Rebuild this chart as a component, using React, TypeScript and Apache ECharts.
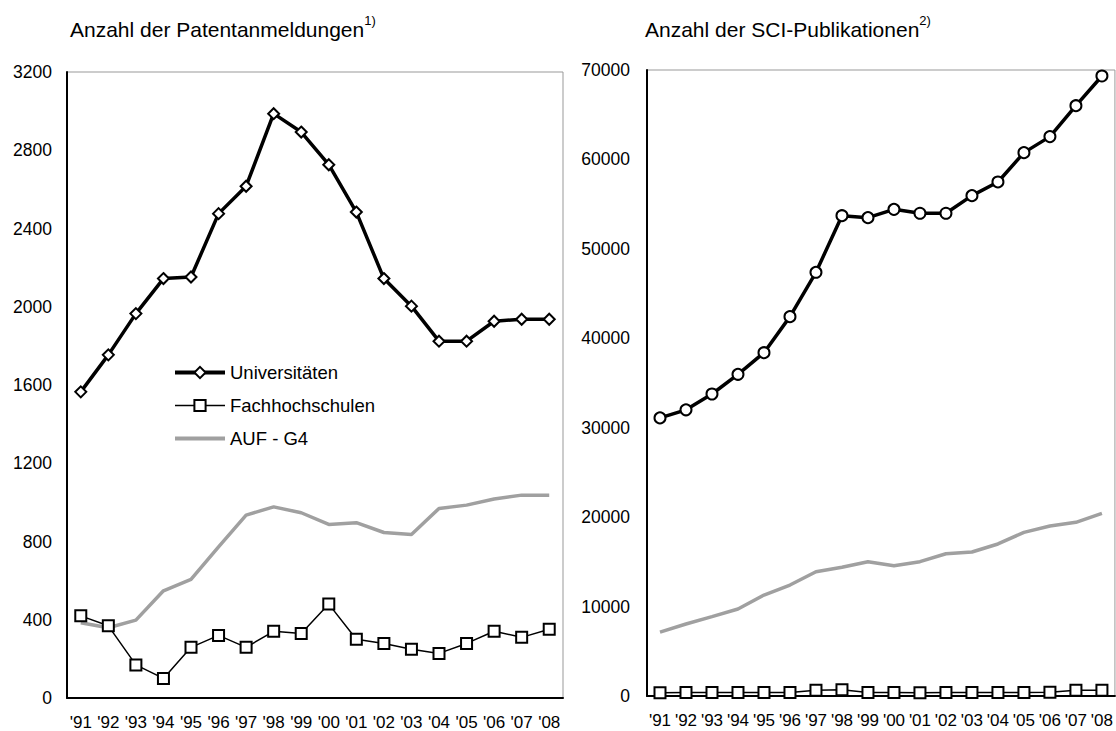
import React, { useEffect, useRef } from "react";
import * as echarts from "echarts";

const years = ["'91","'92","'93","'94","'95","'96","'97","'98","'99","'00","'01","'02","'03","'04","'05","'06","'07","'08"];

// Patentanmeldungen
const patUni = [1565, 1754, 1965, 2144, 2152, 2476, 2616, 2987, 2893, 2726, 2484, 2144, 2003, 1824, 1824, 1926, 1936, 1936];
const patFH = [420, 369, 169, 100, 259, 320, 259, 341, 330, 480, 300, 279, 249, 228, 279, 341, 310, 351];
const patAUF = [385, 359, 398, 548, 606, 773, 935, 977, 947, 887, 896, 846, 836, 969, 986, 1017, 1037, 1037];

// SCI-Publikationen
const pubUni = [31100, 32000, 33770, 35970, 38390, 42420, 47380, 53710, 53490, 54420, 53980, 53980, 55950, 57480, 60760, 62550, 66010, 69330];
const pubFH = [350, 380, 400, 390, 380, 400, 650, 700, 380, 380, 360, 380, 400, 380, 400, 420, 650, 650];
const pubAUF = [7150, 8050, 8870, 9730, 11290, 12410, 13900, 14390, 15020, 14570, 15020, 15910, 16100, 17000, 18300, 19010, 19420, 20430];

const leftTicks = { min: 0, max: 3200, interval: 400 };
const rightTicks = { min: 0, max: 70000, interval: 10000 };

const NAME_UNI = "Universitäten";
const NAME_FH = "Fachhochschulen";
const NAME_AUF = "AUF - G4";

const FONT = "'Liberation Sans', Arial, sans-serif";
const GRAY = "#a0a0a0";

export default function App() {
  const ref = useRef<HTMLDivElement>(null);
  useEffect(() => {
    document.body.style.margin = "0";
    const chart = echarts.init(ref.current!, null, { renderer: "svg" });
    const xAxisBase = (gridIndex: number) => ({
      type: "category",
      gridIndex,
      data: years,
      boundaryGap: true,
      axisLine: { show: true, lineStyle: { color: "#000", width: 2 } },
      axisTick: { show: false },
      axisLabel: { interval: 0, color: "#000", fontSize: 17, fontFamily: FONT, margin: 16, hideOverlap: false },
      splitLine: { show: false },
    });
    const yAxisBase = (gridIndex: number, t: any, margin: number) => ({
      type: "value",
      gridIndex,
      min: t.min,
      max: t.max,
      interval: t.interval,
      axisLine: { show: true, lineStyle: { color: "#000", width: 2 } },
      axisTick: { show: false },
      axisLabel: { color: "#000", fontSize: 17.5, fontFamily: FONT, margin, formatter: (v: number) => String(v) },
      splitLine: { show: false },
    });
    const uniStyle = (symbol: string) => ({
      type: "line",
      symbol,
      symbolSize: 11,
      itemStyle: { color: "#fff", borderColor: "#000", borderWidth: 2 },
      lineStyle: { color: "#000", width: 3.5 },
      z: 4,
    });
    const fhStyle = {
      type: "line",
      symbol: "rect",
      symbolSize: 11,
      itemStyle: { color: "#fff", borderColor: "#000", borderWidth: 2 },
      lineStyle: { color: "#000", width: 1.5 },
      z: 3,
    };
    const aufStyle = {
      type: "line",
      symbol: "none",
      showSymbol: false,
      itemStyle: { color: GRAY },
      lineStyle: { color: GRAY, width: 3.5 },
      z: 2,
    };
    chart.setOption({
      animation: false,
      backgroundColor: "#fff",
      textStyle: { fontFamily: FONT },
      grid: [
        { left: 67, top: 72, width: 496, height: 626, show: true, borderColor: "#999", borderWidth: 1, backgroundColor: "transparent" },
        { left: 647, top: 70, width: 468, height: 626, show: true, borderColor: "#999", borderWidth: 1, backgroundColor: "transparent" },
      ],
      xAxis: [xAxisBase(0), xAxisBase(1)],
      yAxis: [yAxisBase(0, leftTicks, 15), yAxisBase(1, rightTicks, 17)],
      legend: {
        orient: "vertical",
        left: 168,
        top: 358,
        itemWidth: 50,
        itemHeight: 14,
        itemGap: 14,
        data: [
          { name: NAME_UNI, lineStyle: { width: 4, color: "#000" } },
          { name: NAME_FH, lineStyle: { width: 1.5, color: "#000" } },
          { name: NAME_AUF, itemStyle: { opacity: 0 }, lineStyle: { width: 4, color: GRAY } },
        ],
        textStyle: { color: "#000", fontSize: 18.5, fontFamily: FONT },
        selectedMode: false,
      },
      graphic: [
        {
          type: "text",
          left: 70,
          top: 14,
          style: {
            text: "{a|Anzahl der Patentanmeldungen}{s|1)}",
            rich: {
              a: { fontSize: 21, fontFamily: FONT, fill: "#000", lineHeight: 26, verticalAlign: "bottom" },
              s: { fontSize: 13, fontFamily: FONT, fill: "#000", lineHeight: 26, verticalAlign: "top" },
            },
          },
        },
        {
          type: "text",
          left: 645,
          top: 14,
          style: {
            text: "{a|Anzahl der SCI-Publikationen}{s|2)}",
            rich: {
              a: { fontSize: 21, fontFamily: FONT, fill: "#000", lineHeight: 26, verticalAlign: "bottom" },
              s: { fontSize: 13, fontFamily: FONT, fill: "#000", lineHeight: 26, verticalAlign: "top" },
            },
          },
        },
      ],
      series: [
        { ...aufStyle, name: NAME_AUF, xAxisIndex: 0, yAxisIndex: 0, data: patAUF },
        { ...fhStyle, name: NAME_FH, xAxisIndex: 0, yAxisIndex: 0, data: patFH },
        { ...uniStyle("diamond"), name: NAME_UNI, xAxisIndex: 0, yAxisIndex: 0, data: patUni },
        { ...aufStyle, name: NAME_AUF, xAxisIndex: 1, yAxisIndex: 1, data: pubAUF },
        { ...fhStyle, name: NAME_FH, xAxisIndex: 1, yAxisIndex: 1, data: pubFH },
        { ...uniStyle("circle"), name: NAME_UNI, xAxisIndex: 1, yAxisIndex: 1, data: pubUni },
      ],
    });
    return () => chart.dispose();
  }, []);
  return <div ref={ref} style={{ position: "absolute", left: 0, top: 0, width: 1116, height: 731 }} />;
}
